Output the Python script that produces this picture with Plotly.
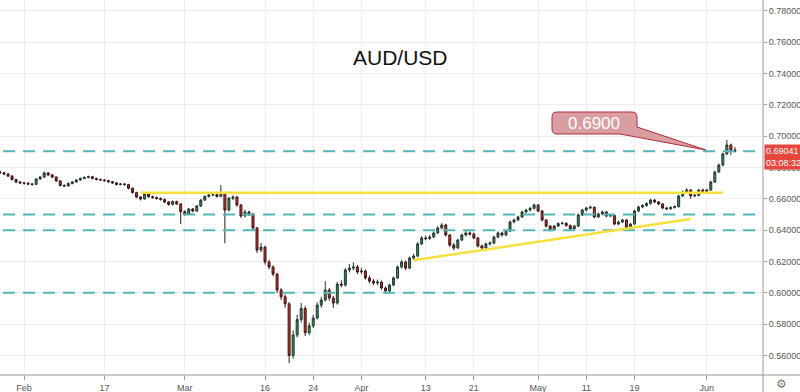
import pandas as pd
import plotly.graph_objects as go

# ---------------- data (12-hour candles) ----------------
first_open = 0.6772
closes = [
    0.6766, 0.6758, 0.6745, 0.6723, 0.6707, 0.6701, 0.6699, 0.6694, 0.6692, 0.6726,
    0.6739, 0.6765, 0.6752, 0.6739, 0.6714, 0.6685, 0.6682, 0.6698, 0.6707, 0.6720,
    0.6730, 0.6736, 0.6741, 0.6730, 0.6723, 0.6720, 0.6716, 0.6709, 0.6701, 0.6691,
    0.6694, 0.6691, 0.6667, 0.6640, 0.6611, 0.6599, 0.6631, 0.6613, 0.6608, 0.6602,
    0.6596, 0.6580, 0.6564, 0.6582, 0.6567, 0.6518, 0.6503, 0.6535, 0.6522, 0.6554,
    0.6592, 0.6615, 0.6624, 0.6626, 0.6615, 0.6639, 0.6528, 0.6603, 0.6611, 0.6560,
    0.6490, 0.6516, 0.6503, 0.6414, 0.6273, 0.6292, 0.6197, 0.6165, 0.6120, 0.6018,
    0.5975, 0.5930, 0.5600, 0.5731, 0.5830, 0.5900, 0.5745, 0.5790, 0.5839, 0.5922,
    0.5954, 0.6018, 0.5967, 0.5935, 0.6056, 0.6050, 0.6146, 0.6158, 0.6165, 0.6133,
    0.6139, 0.6095, 0.6075, 0.6063, 0.6069, 0.6031, 0.6012, 0.6050, 0.6095, 0.6165,
    0.6197, 0.6158, 0.6222, 0.6235, 0.6312, 0.6350, 0.6346, 0.6356, 0.6382, 0.6414,
    0.6433, 0.6369, 0.6305, 0.6286, 0.6337, 0.6369, 0.6382, 0.6375, 0.6350, 0.6299,
    0.6286, 0.6312, 0.6318, 0.6356, 0.6382, 0.6369, 0.6394, 0.6452, 0.6465, 0.6484,
    0.6516, 0.6528, 0.6539, 0.6560, 0.6522, 0.6465, 0.6426, 0.6401, 0.6426, 0.6442,
    0.6444, 0.6430, 0.6407, 0.6426, 0.6497, 0.6528, 0.6541, 0.6546, 0.6484, 0.6503,
    0.6516, 0.6490, 0.6494, 0.6439, 0.6452, 0.6465, 0.6414, 0.6439, 0.6522, 0.6548,
    0.6557, 0.6570, 0.6592, 0.6580, 0.6567, 0.6541, 0.6536, 0.6544, 0.6550, 0.6618,
    0.6643, 0.6656, 0.6618, 0.6622, 0.6656, 0.6647, 0.6656, 0.6707, 0.6771, 0.6815,
    0.6886, 0.6943, 0.6911, 0.6904,
]
highs = [
    0.6780, 0.6772, 0.6764, 0.6750, 0.6728, 0.6713, 0.6708, 0.6705, 0.6700, 0.6731,
    0.6745, 0.6774, 0.6770, 0.6758, 0.6742, 0.6719, 0.6692, 0.6704, 0.6713, 0.6726,
    0.6736, 0.6743, 0.6748, 0.6746, 0.6735, 0.6729, 0.6726, 0.6721, 0.6714, 0.6706,
    0.6700, 0.6701, 0.6696, 0.6672, 0.6645, 0.6617, 0.6638, 0.6636, 0.6620, 0.6614,
    0.6609, 0.6601, 0.6586, 0.6590, 0.6588, 0.6572, 0.6526, 0.6542, 0.6541, 0.6560,
    0.6598, 0.6622, 0.6632, 0.6634, 0.6632, 0.6688, 0.6645, 0.6612, 0.6622, 0.6618,
    0.6568, 0.6530, 0.6524, 0.6510, 0.6420, 0.6318, 0.6300, 0.6210, 0.6175, 0.6128,
    0.6030, 0.5990, 0.5940, 0.5760, 0.5860, 0.5935, 0.5915, 0.5810, 0.5860, 0.5940,
    0.5975, 0.6075, 0.6030, 0.5980, 0.6070, 0.6080, 0.6160, 0.6185, 0.6195, 0.6178,
    0.6160, 0.6150, 0.6110, 0.6088, 0.6085, 0.6078, 0.6040, 0.6058, 0.6105, 0.6175,
    0.6210, 0.6205, 0.6232, 0.6250, 0.6325, 0.6362, 0.6365, 0.6370, 0.6392, 0.6425,
    0.6445, 0.6440, 0.6375, 0.6318, 0.6345, 0.6378, 0.6395, 0.6392, 0.6384, 0.6356,
    0.6308, 0.6322, 0.6328, 0.6365, 0.6392, 0.6390, 0.6402, 0.6460, 0.6474, 0.6492,
    0.6524, 0.6536, 0.6548, 0.6570, 0.6566, 0.6528, 0.6470, 0.6432, 0.6433, 0.6450,
    0.6454, 0.6450, 0.6436, 0.6432, 0.6505, 0.6536, 0.6550, 0.6556, 0.6550, 0.6512,
    0.6524, 0.6522, 0.6502, 0.6500, 0.6460, 0.6472, 0.6470, 0.6446, 0.6530, 0.6556,
    0.6566, 0.6578, 0.6600, 0.6598, 0.6586, 0.6572, 0.6548, 0.6552, 0.6558, 0.6626,
    0.6652, 0.6668, 0.6662, 0.6634, 0.6664, 0.6665, 0.6664, 0.6715, 0.6780, 0.6825,
    0.6895, 0.6975, 0.6952, 0.6930,
]
lows = [
    0.6758, 0.6750, 0.6738, 0.6716, 0.6700, 0.6694, 0.6690, 0.6687, 0.6683, 0.6688,
    0.6720, 0.6733, 0.6745, 0.6732, 0.6708, 0.6678, 0.6674, 0.6677, 0.6692, 0.6702,
    0.6714, 0.6725, 0.6730, 0.6724, 0.6717, 0.6713, 0.6710, 0.6702, 0.6695, 0.6685,
    0.6686, 0.6684, 0.6660, 0.6633, 0.6604, 0.6590, 0.6594, 0.6607, 0.6601, 0.6595,
    0.6588, 0.6572, 0.6556, 0.6558, 0.6560, 0.6440, 0.6492, 0.6498, 0.6514, 0.6517,
    0.6548, 0.6586, 0.6608, 0.6616, 0.6608, 0.6610, 0.6316, 0.6520, 0.6592, 0.6550,
    0.6478, 0.6482, 0.6490, 0.6400, 0.6255, 0.6260, 0.6180, 0.6150, 0.6105, 0.6000,
    0.5955, 0.5905, 0.5552, 0.5580, 0.5715, 0.5810, 0.5725, 0.5730, 0.5775, 0.5830,
    0.5905, 0.5945, 0.5950, 0.5905, 0.5925, 0.6035, 0.6040, 0.6130, 0.6145, 0.6120,
    0.6120, 0.6085, 0.6060, 0.6050, 0.6050, 0.6020, 0.5995, 0.6005, 0.6042, 0.6088,
    0.6155, 0.6145, 0.6150, 0.6210, 0.6228, 0.6305, 0.6335, 0.6338, 0.6348, 0.6375,
    0.6405, 0.6360, 0.6292, 0.6272, 0.6280, 0.6330, 0.6360, 0.6365, 0.6342, 0.6290,
    0.6275, 0.6280, 0.6302, 0.6310, 0.6348, 0.6360, 0.6362, 0.6388, 0.6444, 0.6458,
    0.6478, 0.6509, 0.6520, 0.6532, 0.6515, 0.6456, 0.6418, 0.6392, 0.6395, 0.6420,
    0.6435, 0.6422, 0.6398, 0.6400, 0.6420, 0.6490, 0.6520, 0.6534, 0.6476, 0.6478,
    0.6496, 0.6482, 0.6484, 0.6432, 0.6432, 0.6445, 0.6408, 0.6408, 0.6432, 0.6515,
    0.6540, 0.6550, 0.6563, 0.6572, 0.6560, 0.6534, 0.6528, 0.6530, 0.6538, 0.6544,
    0.6612, 0.6636, 0.6600, 0.6610, 0.6615, 0.6640, 0.6640, 0.6650, 0.6700, 0.6765,
    0.6808, 0.6880, 0.6880, 0.6895,
]
start_day = "2020-01-29"
n_days = 92

tick_dates = ["2020-02-03", "2020-02-17", "2020-03-02", "2020-03-16", "2020-03-24",
              "2020-04-01", "2020-04-13", "2020-04-21", "2020-05-01", "2020-05-11",
              "2020-05-19", "2020-06-01"]
tick_text = ["Feb", "17", "Mar", "16", "24", "Apr", "13", "21", "May", "11", "19", "Jun"]
price_ticks = [0.56, 0.58, 0.60, 0.62, 0.64, 0.66, 0.68, 0.70, 0.72, 0.74, 0.76, 0.78]

dashed_levels = [0.6904, 0.65, 0.64, 0.60]
resistance = dict(x0="2020-02-21 12:00", x1="2020-06-03 00:00", y=0.6638)
trend = dict(x0="2020-04-09 12:00", y0=0.6208, x1="2020-05-28 00:00", y1=0.6471)
last_price = "0.69041"
countdown = "03:08:32"
callout_text = "0.6900"
title_text = "AUD/USD"

# ---------------- build ----------------
days = pd.bdate_range(start_day, periods=n_days)
times = [d + pd.Timedelta(hours=h) for d in days for h in (0, 12)]
opens = [first_open] + closes[:-1]

W, H = 800, 392
ML, MR, MT, MB = 0, 37, 0, 17
PW, PH = W - ML - MR, H - MT - MB
NARROW = "Liberation Sans Narrow, Arial Narrow, Liberation Sans"


def px(x):
    return x / PW


def py(y):
    return 1 - y / PH


fig = go.Figure(go.Candlestick(
    x=times, open=opens, high=highs, low=lows, close=closes,
    increasing=dict(line=dict(color="#22372a", width=1), fillcolor="#3e8a5c"),
    decreasing=dict(line=dict(color="#3a1515", width=1), fillcolor="#c0392b"),
    whiskerwidth=0, showlegend=False, hoverinfo="skip",
))

shapes = []
for lv in dashed_levels:
    shapes.append(dict(type="line", xref="paper", yref="y", x0=0.004, x1=1, y0=lv, y1=lv,
                       line=dict(color="#52b6b9", width=2, dash="12px,8px")))
shapes.append(dict(type="line", xref="x", yref="y", x0=resistance["x0"], x1=resistance["x1"],
                   y0=resistance["y"], y1=resistance["y"],
                   line=dict(color="#f7e03c", width=2.5)))
shapes.append(dict(type="line", xref="x", yref="y", x0=trend["x0"], x1=trend["x1"],
                   y0=trend["y0"], y1=trend["y1"],
                   line=dict(color="#f7e03c", width=2.5)))

# callout box with pointer (pixel layout converted to paper coords)
pts = [("M", 557, 112), ("L", 632, 112), ("Q", 637, 112, 637, 117), ("L", 637, 127),
       ("L", 706, 150), ("L", 620, 134), ("L", 557, 134), ("Q", 552, 134, 552, 129),
       ("L", 552, 117), ("Q", 552, 112, 557, 112)]
path = ""
for p in pts:
    if p[0] == "Q":
        path += f"Q {px(p[1]):.4f},{py(p[2]):.4f} {px(p[3]):.4f},{py(p[4]):.4f} "
    else:
        path += f"{p[0]} {px(p[1]):.4f},{py(p[2]):.4f} "
path += "Z"
shapes.append(dict(type="path", xref="paper", yref="paper", path=path,
                   fillcolor="#d99ea2", line=dict(color="#b32c38", width=1)))

# frame lines of the price / time scales
shapes.append(dict(type="line", xref="paper", yref="paper", x0=1, x1=1, y0=py(H), y1=1,
                   line=dict(color="#9a9a9a", width=1)))
shapes.append(dict(type="line", xref="paper", yref="paper", x0=0, x1=px(W), y0=0, y1=0,
                   line=dict(color="#9a9a9a", width=1)))

annotations = [
    dict(text=title_text, xref="paper", yref="paper", x=px(400), y=py(57), showarrow=False,
         xanchor="center", yanchor="middle",
         font=dict(family="Liberation Sans, Arial", size=21, color="#111")),
    dict(text=callout_text, xref="paper", yref="paper", x=px(594), y=py(123), showarrow=False,
         xanchor="center", yanchor="middle",
         font=dict(family="Liberation Sans, Arial", size=17, color="#ffffff")),
    dict(text=last_price, xref="paper", yref="y", x=1, y=0.69041, xanchor="left",
         yanchor="middle", xshift=1,
         showarrow=False, bgcolor="#e8463c", borderpad=1,
         font=dict(family=NARROW, size=9, color="#ffffff")),
    dict(text=countdown, xref="paper", yref="paper", x=1, y=py(163), xanchor="left",
         yanchor="middle", xshift=1,
         showarrow=False, bgcolor="#e8463c", borderpad=1,
         font=dict(family=NARROW, size=9, color="#ffffff")),
    dict(text="⚙", xref="paper", yref="paper", x=px(781), y=py(384), showarrow=False,
         xanchor="center", yanchor="middle",
         font=dict(family="DejaVu Sans", size=12, color="#777")),
]

fig.update_layout(
    width=W, height=H,
    margin=dict(l=ML, r=MR, t=MT, b=MB),
    paper_bgcolor="white", plot_bgcolor="white",
    shapes=shapes, annotations=annotations,
    font=dict(family="Liberation Sans, Arial", color="#555"),
    xaxis=dict(
        type="date", rangeslider=dict(visible=False),
        rangebreaks=[dict(bounds=["sat", "mon"])],
        range=["2020-01-29 00:00", "2020-06-10 00:00"],
        tickvals=tick_dates, ticktext=tick_text,
        showgrid=True, gridcolor="#ededed", gridwidth=1,
        showline=False, ticks="outside", ticklen=4, tickcolor="#9a9a9a",
        tickfont=dict(family=NARROW, size=9, color="#555"), automargin=False, zeroline=False,
    ),
    yaxis=dict(
        side="right", range=[0.5476, 0.7868],
        tickvals=price_ticks, ticktext=[f"{v:.5f}" for v in price_ticks],
        showgrid=True, gridcolor="#ededed", gridwidth=1,
        showline=False, ticks="outside", ticklen=3, tickcolor="#9a9a9a",
        tickfont=dict(family=NARROW, size=9, color="#555"), automargin=False, zeroline=False,
    ),
)

fig.write_html("out.html", config={"displayModeBar": False},
               post_script="document.body.style.margin='0';document.body.style.overflow='hidden';")
